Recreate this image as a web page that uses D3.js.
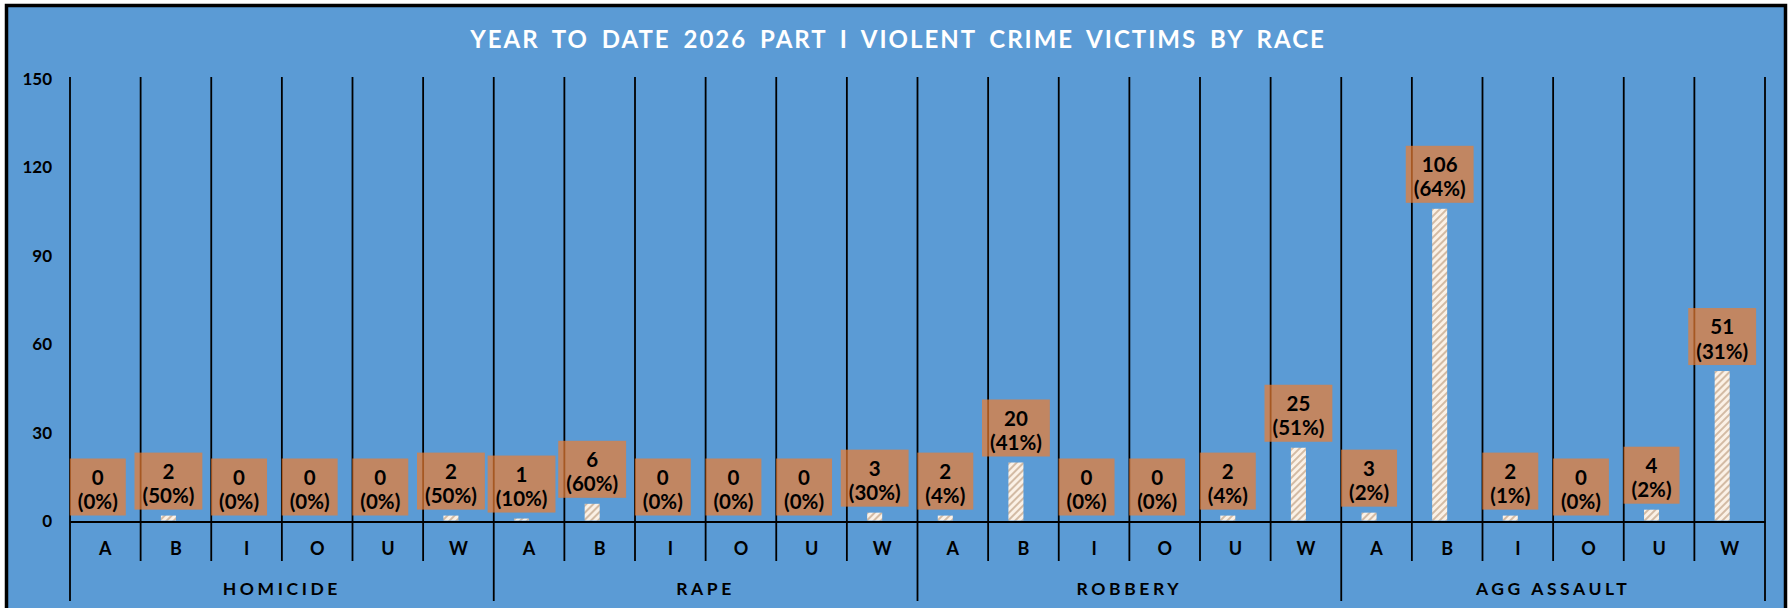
<!DOCTYPE html>
<html>
<head>
<meta charset="utf-8">
<script src="https://cdn.jsdelivr.net/npm/d3@7"></script>
<style>
  body { margin: 0; background: #fff; }
  text { font-family: Lato, "Open Sans", sans-serif; font-weight: bold; }
</style>
</head>
<body>
<svg id="chart" width="1791" height="608"></svg>
<script>
// values
const groups = ['HOMICIDE', 'RAPE', 'ROBBERY', 'AGG ASSAULT']
const races = ['A', 'B', 'I', 'O', 'U', 'W']
const homicide = [0, 2, 0, 0, 0, 2]
const rape = [1, 6, 0, 0, 0, 3]
const robbery = [2, 20, 0, 0, 2, 25]
const aggAssault = [3, 106, 2, 0, 4, 51]
const yTicks = [0, 30, 60, 90, 120, 150]
const title = 'YEAR TO DATE 2026 PART I VIOLENT CRIME VICTIMS BY RACE'

const series = [homicide, rape, robbery, aggAssault]

// flatten into rows, pct is share inside its crime group
let rows = []
groups.forEach((g, gi) => {
  let total = d3.sum(series[gi])
  races.forEach((r, ri) => {
    let v = series[gi][ri]
    rows.push({key: g + '|' + r, group: g, race: r, value: v, pct: total ? Math.round(v / total * 100) : 0})
  })
})

let svg = d3.select('#chart')
let plotL = 70, plotR = 1765, plotT = 79, base = 521.5

// frame
svg.append('rect')
  .attr('x', 6.5).attr('y', 5.5)
  .attr('width', 1779).attr('height', 700)
  .attr('fill', '#5B9BD5')
  .attr('stroke', '#000').attr('stroke-width', 3.5)

// hatch for the bars
let pat = svg.append('defs').append('pattern')
  .attr('id', 'hatch')
  .attr('patternUnits', 'userSpaceOnUse')
  .attr('width', 5).attr('height', 5)
  .attr('patternTransform', 'rotate(45)')
pat.append('rect').attr('width', 5).attr('height', 5).attr('fill', '#FBF1E6')
pat.append('line').attr('x1', 1).attr('y1', 0).attr('x2', 1).attr('y2', 5)
  .attr('stroke', '#C9AE94').attr('stroke-width', 1.6)

let x0 = d3.scaleBand().domain(rows.map(d => d.key)).range([plotL, plotR])
let x1 = d3.scaleBand().domain(['count', 'blank']).range([0, x0.bandwidth()]).paddingOuter(1.35)
let y = d3.scaleLinear().domain([0, 150]).range([base, plotT])

// title
svg.append('text')
  .attr('x', 898).attr('y', 48)
  .attr('text-anchor', 'middle')
  .attr('fill', '#fff')
  .attr('font-size', 24)
  .attr('letter-spacing', 2)
  .attr('word-spacing', 5)
  .text(title)

// vertical separators between categories, longer ones between groups
let edges = x0.domain().map(k => x0(k)).concat([plotR])
svg.append('g').selectAll('line')
  .data(edges)
  .enter()
  .append('line')
  .attr('x1', d => d).attr('x2', d => d)
  .attr('y1', plotT - 2)
  .attr('y2', (d, i) => i % races.length === 0 ? 601 : 561)
  .attr('stroke', '#000').attr('stroke-width', 1.8)

// y axis labels
let yAxis = svg.append('g')
  .attr('transform', `translate(${plotL},0)`)
  .call(d3.axisLeft(y).tickValues(yTicks).tickSize(0).tickPadding(18))
yAxis.select('.domain').remove()
yAxis.selectAll('text').attr('font-size', 17).attr('fill', '#000')
  .style('font-family', 'Lato, sans-serif').style('font-weight', 'bold')

// category axis
let xAxis = svg.append('g')
  .attr('transform', `translate(0,${base})`)
  .call(d3.axisBottom(x0).tickSize(0).tickPadding(21).tickFormat(k => k.split('|')[1]))
xAxis.select('.domain').attr('stroke', '#000').attr('stroke-width', 2)
xAxis.selectAll('text').attr('font-size', 18).attr('fill', '#000')
  .style('font-family', 'Lato, sans-serif').style('font-weight', 'bold')

// group labels
svg.append('g').selectAll('text')
  .data(groups)
  .enter()
  .append('text')
  .attr('x', g => (x0(g + '|' + races[0]) + x0(g + '|' + races[races.length - 1]) + x0.bandwidth()) / 2)
  .attr('y', 595)
  .attr('text-anchor', 'middle')
  .attr('font-size', 17.5)
  .attr('letter-spacing', 3.6)
  .attr('fill', '#000')
  .text(g => g)

// bars
svg.append('g').selectAll('rect')
  .data(rows)
  .enter()
  .append('rect')
  .attr('x', d => x0(d.key) + x1('count'))
  .attr('y', d => y(d.value))
  .attr('width', x1.bandwidth())
  .attr('height', d => base - 1 - y(d.value))
  .attr('fill', 'url(#hatch)')

// data labels in boxes
let lab = svg.append('g').selectAll('g')
  .data(rows)
  .enter()
  .append('g')
  .attr('transform', d => `translate(${x0(d.key) + x1('count') + x1.bandwidth() / 2},${y(d.value) - 6})`)

lab.each(function(d) {
  let g = d3.select(this)
  let box = g.append('rect')
  let t1 = g.append('text').attr('y', -31).text(d.value)
  let t2 = g.append('text').attr('y', -6.5).text(`(${d.pct}%)`)
  g.selectAll('text').attr('text-anchor', 'middle').attr('font-size', 20.5).attr('fill', '#000')
  let w = Math.max(t1.node().getComputedTextLength(), t2.node().getComputedTextLength()) + 16
  box.attr('x', -w / 2).attr('y', -57).attr('width', w).attr('height', 57)
    .attr('fill', 'rgba(237,125,49,0.7)')
})
</script>
</body>
</html>
